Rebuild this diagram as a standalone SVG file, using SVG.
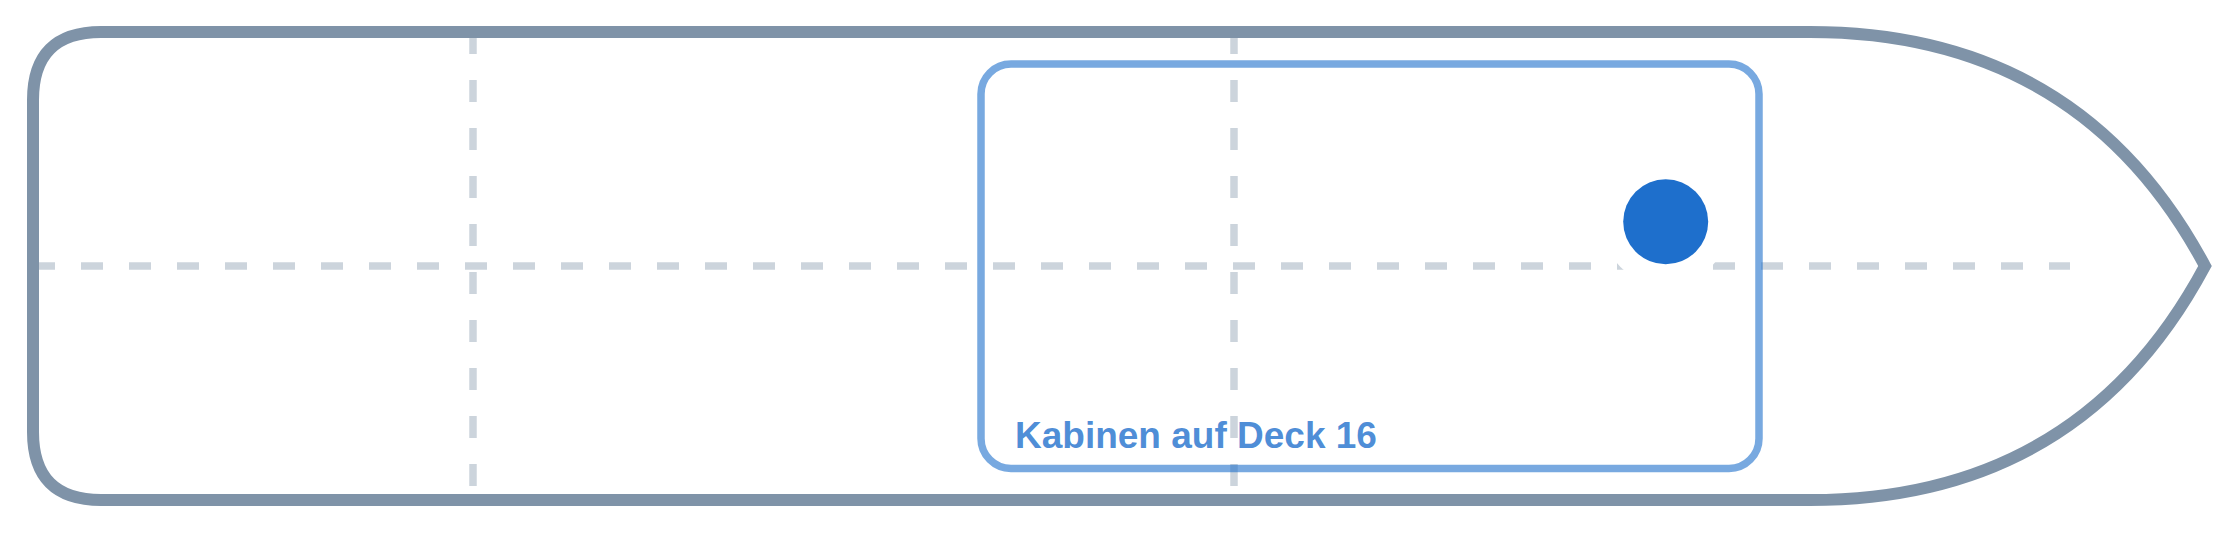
<svg xmlns="http://www.w3.org/2000/svg" width="2240" height="533" viewBox="0 0 2240 533">
  <style>
    .hull { fill: #ffffff; stroke: #7f93a8; stroke-width: 12; stroke-linejoin: miter; }
    .guide { stroke: #7f93a8; stroke-opacity: 0.4; stroke-width: 7.5; stroke-dasharray: 22 26; fill: none; }
    .cabin { fill: none; stroke: #1e6fcc; stroke-opacity: 0.6; stroke-width: 7.5; }
    .halo { fill: #ffffff; }
    .dot { fill: #1e6fcc; }
    .label { font-family: "Liberation Sans", Arial, sans-serif; font-weight: bold; font-size: 37px; fill: #1e6fcc; fill-opacity: 0.8; }
  </style>
  <rect x="0" y="0" width="2240" height="533" fill="#ffffff"/>
  <g id="hull">
    <path class="hull" d="M 101 32 L 1810 32 Q 2080 32 2205 266 Q 2080 500 1810 500 L 101 500 Q 33 500 33 432 L 33 100 Q 33 32 101 32 Z"/>
  </g>
  <g id="guides">
    <line class="guide" x1="33" y1="266" x2="2070" y2="266"/>
    <line class="guide" x1="473" y1="32" x2="473" y2="500"/>
    <line class="guide" x1="1234" y1="32" x2="1234" y2="500"/>
  </g>
  <g id="cabins">
    <rect class="cabin" x="981" y="64" width="778" height="404.5" rx="30" ry="30"/>
    <text class="label" x="1015" y="448">Kabinen auf Deck 16</text>
  </g>
  <g id="position">
    <circle class="halo" cx="1665.7" cy="221.7" r="64"/>
    <circle class="dot" cx="1665.7" cy="221.7" r="42.5"/>
  </g>
</svg>
